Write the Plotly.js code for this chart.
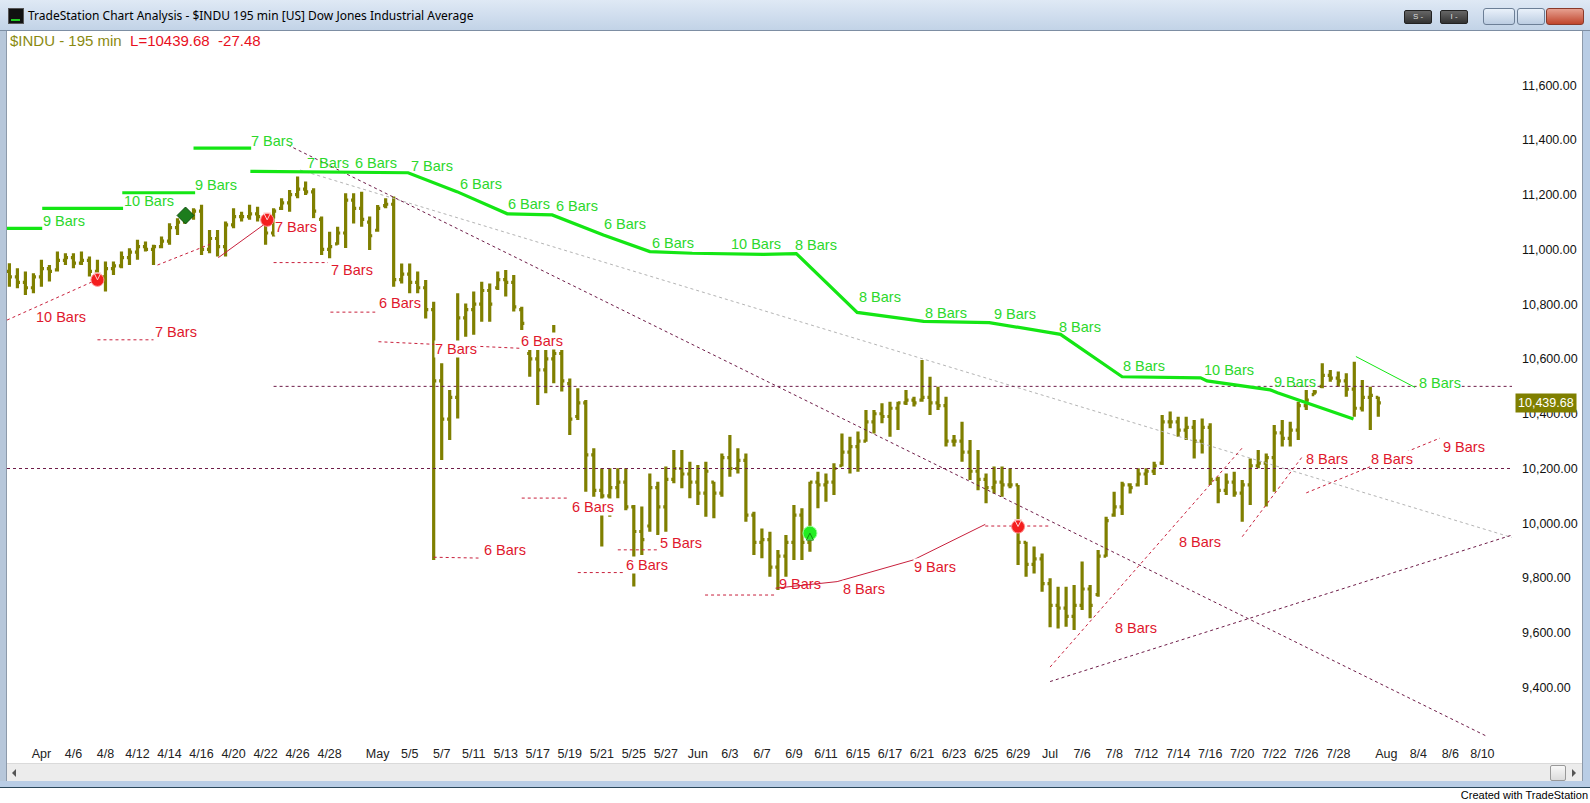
<!DOCTYPE html>
<html>
<head>
<meta charset="utf-8">
<script src="https://cdn.plot.ly/plotly-3.0.1.min.js"></script>
<style>
  body { margin:0; width:1590px; height:803px; overflow:hidden; background:#fff; font-family: Arial, "Liberation Sans", sans-serif; position:relative; }
  .abs { position:absolute; }
  #titlebar { left:0; top:0; width:1590px; height:30px; background:linear-gradient(#dfe9f5,#c2d3e7); border-bottom:1px solid #7d8ea3; }
  #title { left:28px; top:7px; font: 12px "Noto Sans", "DejaVu Sans", sans-serif; color:#000; white-space:nowrap; }
  #icon { left:8px; top:8px; width:14px; height:14px; background:#111; border:1px solid #555; }
  #icon div { position:absolute; left:2px; bottom:2px; width:9px; height:2px; background:#2c2; }
  .tbtn { top:10px; height:12px; background:linear-gradient(#666,#333); border:1px solid #222; border-radius:2px; color:#ddd; font:8px Arial; text-align:center; line-height:12px; }
  .wbtn { top:8px; height:15px; border:1px solid #6c7f96; border-radius:3px; background:linear-gradient(#e9f1fa,#bccde2); }
  #closeb { background:linear-gradient(#e6a090,#c0452c); border-color:#8a3a2a; }
  #hdr { left:10px; top:31px; font:15px Arial, "Liberation Sans", sans-serif; white-space:pre; line-height:19px; z-index:5; }
  #leftb { left:0; top:31px; width:6px; height:750px; background:#b7c7da; border-right:1px solid #8d9aaa; }
  #rightb { left:1582px; top:31px; width:8px; height:750px; background:#b9cde5; border-left:1px solid #8d9aaa; }
  #scroll { left:7px; top:763px; width:1575px; height:17px; background:#ececec; border-top:1px solid #dadada; }
  #bottomb { left:0; top:781px; width:1590px; height:6px; background:#b9cde5; border-bottom:1px solid #2a4658; }
  #credit { right:2px; top:789px; font:11px Arial, "Liberation Sans", sans-serif; color:#000; }
</style>
</head>
<body>
<div id="titlebar" class="abs"></div>
<div id="icon" class="abs"><div></div></div>
<div id="title" class="abs">TradeStation Chart Analysis - $INDU 195 min [US] Dow Jones Industrial Average</div>
<div class="abs tbtn" style="left:1404px;width:26px;">S -</div>
<div class="abs tbtn" style="left:1440px;width:26px;">I -</div>
<div class="abs wbtn" style="left:1483px;width:30px;"></div>
<div class="abs wbtn" style="left:1517px;width:26px;"></div>
<div class="abs wbtn" id="closeb" style="left:1546px;width:36px;"></div>
<div id="chart" class="abs" style="left:7px;top:31px;width:1575px;height:732px;"></div>
<div id="hdr" class="abs"><span style="color:#8a8a10">$INDU - 195 min</span>  <span style="color:#e8101e">L=10439.68  -27.48</span></div>
<div id="leftb" class="abs"></div>
<div id="rightb" class="abs"></div>
<div id="scroll" class="abs">
  <div class="abs" style="left:5px;top:5px;width:0;height:0;border-top:4px solid transparent;border-bottom:4px solid transparent;border-right:4px solid #555;"></div>
  <div class="abs" style="left:1543px;top:1px;width:14px;height:14px;background:linear-gradient(#f8f8f8,#dcdcdc);border:1px solid #999;border-radius:2px;"></div>
  <div class="abs" style="left:1565px;top:5px;width:0;height:0;border-top:4px solid transparent;border-bottom:4px solid transparent;border-left:4px solid #555;"></div>
</div>
<div id="bottomb" class="abs"></div>
<div id="credit" class="abs">Created with TradeStation</div>

<script>
// ---------- time axis ----------
const tradingDays = ['3/30','3/31','4/1','4/5','4/6','4/7','4/8','4/9','4/12','4/13','4/14','4/15','4/16','4/19','4/20','4/21','4/22','4/23','4/26','4/27','4/28','4/29','4/30','5/3','5/4','5/5','5/6','5/7','5/10','5/11','5/12','5/13','5/14','5/17','5/18','5/19','5/20','5/21','5/24','5/25','5/26','5/27','5/28','6/1','6/2','6/3','6/4','6/7','6/8','6/9','6/10','6/11','6/14','6/15','6/16','6/17','6/18','6/21','6/22','6/23','6/24','6/25','6/28','6/29','6/30','7/1','7/2','7/6','7/7','7/8','7/9','7/12','7/13','7/14','7/15','7/16','7/19','7/20','7/21','7/22','7/23','7/26','7/27','7/28','7/29','7/30','8/2','8/3','8/4','8/5','8/6','8/9','8/10','8/11','8/12'];
const sessions = ['09:30','12:45'];
const tickDays   = ['4/1','4/6','4/8','4/12','4/14','4/16','4/20','4/22','4/26','4/28','5/3','5/5','5/7','5/11','5/13','5/17','5/19','5/21','5/25','5/27','6/1','6/3','6/7','6/9','6/11','6/15','6/17','6/21','6/23','6/25','6/29','7/1','7/6','7/8','7/12','7/14','7/16','7/20','7/22','7/26','7/28','8/2','8/4','8/6','8/10'];
const tickLabels = ['Apr','4/6','4/8','4/12','4/14','4/16','4/20','4/22','4/26','4/28','May','5/5','5/7','5/11','5/13','5/17','5/19','5/21','5/25','5/27','Jun','6/3','6/7','6/9','6/11','6/15','6/17','6/21','6/23','6/25','6/29','Jul','7/6','7/8','7/12','7/14','7/16','7/20','7/22','7/26','7/28','Aug','8/4','8/6','8/10'];
const priceTicks = [9400,9600,9800,10000,10200,10400,10600,10800,11000,11200,11400,11600];

// ---------- 195-min OHLC bars ($INDU) ----------
const barOpen = [10920,10900,10880,10860,10900,10930,10925,10960,10970,10950,10960,10920,10900,10930,10940,10970,10990,11010,11000,11010,
11030,11080,11100,11125,11140,11000,11040,11010,11090,11120,11120,11130,11120,11060,11150,11170,11200,11220,11210,11110,
11000,11020,11060,11180,11150,11100,11070,11160,11165,10890,10910,10880,10860,10780,10520,10380,10460,10750,10780,10800,
10850,10860,10890,10880,10780,10620,10600,10560,10600,10620,10510,10390,10440,10250,10120,10100,10130,10150,10060,9970,
9990,10130,10060,10160,10200,10180,10150,10110,10150,10110,10240,10200,10230,10030,9930,9940,9840,9880,9930,10030,
9930,10150,10140,10150,10210,10260,10280,10300,10370,10400,10390,10420,10440,10450,10450,10460,10440,10430,10300,10300,
10260,10190,10160,10130,10150,10140,10140,9930,9850,9870,9780,9700,9690,9660,9700,9760,9740,9880,10030,10060,
10140,10140,10180,10190,10220,10370,10370,10340,10350,10300,10350,10160,10120,10150,10110,10140,10210,10220,10240,10330,
10310,10340,10430,10470,10500,10540,10530,10520,10490,10420,10460,10460];
const barHigh = [10950,10931,10919,10913,10962,10943,10992,10986,10986,10992,10974,10962,10956,10956,10992,11004,11035,11029,11017,11047,
11096,11114,11138,11150,11163,11071,11071,11102,11150,11138,11163,11156,11126,11150,11187,11217,11266,11248,11223,11120,
11065,11083,11205,11205,11211,11120,11162,11187,11193,10949,10949,10919,10888,10809,10584,10487,10840,10803,10846,10882,
10876,10919,10925,10907,10791,10633,10633,10633,10724,10633,10529,10493,10450,10274,10201,10201,10201,10201,10067,10061,
10182,10152,10207,10268,10268,10225,10213,10225,10152,10255,10322,10274,10255,10042,9981,9969,9902,9957,10067,10055,
10152,10188,10182,10219,10328,10316,10335,10414,10414,10438,10444,10444,10487,10462,10596,10535,10499,10462,10322,10371,
10304,10268,10182,10207,10207,10201,10140,9933,9915,9890,9799,9768,9768,9775,9860,9775,9902,10024,10115,10152,
10146,10201,10201,10225,10395,10408,10389,10389,10377,10383,10365,10170,10182,10188,10158,10237,10268,10255,10359,10377,
10371,10444,10487,10487,10584,10560,10554,10548,10590,10523,10499,10462];
const barLow = [10864,10858,10834,10840,10864,10883,10919,10943,10931,10943,10901,10876,10846,10907,10931,10943,10962,10992,10943,11004,
11017,11053,11096,11108,10980,10986,10974,10974,11077,11102,11108,11102,11017,11047,11144,11138,11187,11199,11114,10980,
10968,11017,11005,11095,11083,10998,11065,11150,10864,10876,10840,10840,10748,9866,10231,10304,10383,10681,10688,10736,
10736,10852,10828,10773,10706,10535,10432,10475,10511,10481,10322,10377,10115,10097,9915,10024,10091,10048,9769,9884,
9969,9957,9969,10146,10128,10091,10067,10024,10018,10097,10170,10182,10006,9884,9872,9805,9756,9805,9866,9866,
9896,10055,10079,10103,10207,10182,10188,10298,10328,10365,10316,10341,10432,10426,10444,10395,10414,10280,10280,10225,
10158,10121,10073,10109,10097,10128,9848,9805,9817,9750,9620,9616,9622,9610,9683,9653,9732,9878,10024,10030,
10109,10134,10140,10176,10213,10347,10316,10304,10237,10255,10140,10073,10103,10097,10006,10067,10201,10061,10115,10280,
10280,10304,10414,10469,10493,10517,10499,10462,10389,10408,10341,10389];
const barClose = [10900,10880,10860,10900,10930,10920,10960,10970,10950,10960,10920,10900,10930,10940,10970,10990,11010,11000,11010,11030,
11080,11100,11125,11140,11000,11040,11010,11090,11120,11120,11130,11120,11060,11140,11170,11200,11220,11210,11140,11000,
11010,11060,11180,11150,11110,11050,11150,11165,10890,10910,10880,10860,10780,10520,10380,10460,10750,10780,10800,10850,
10800,10890,10880,10790,10730,10600,10560,10600,10620,10520,10380,10440,10250,10120,10100,10130,10150,10060,9970,9940,
10130,10060,10160,10200,10180,10150,10110,10190,10110,10240,10200,10230,10030,9930,9940,9840,9880,9930,10030,9930,
10150,10140,10150,10200,10260,10280,10300,10370,10400,10390,10420,10440,10450,10440,10460,10440,10430,10300,10300,10260,
10190,10160,10130,10150,10140,10140,9930,9850,9870,9780,9700,9690,9660,9700,9760,9700,9880,10010,10060,10140,
10130,10180,10190,10210,10370,10370,10340,10350,10300,10350,10160,10120,10150,10110,10140,10210,10220,10240,10330,10310,
10340,10430,10450,10480,10540,10530,10520,10490,10420,10460,10467.16,10439.68];
const lastPrice = 10439.68;

// ---------- drawing-tool lines (x = bar position, y = price) ----------
const greenStepX = [-0.3,4.1,null, 4.1,14.2,null, 14.1,23.2,null, 23.0,30.2,null,
  30.1,49.8,55.9,62.2,67.8,74.2,80.0,85.3,94.2,98.3,105.9,114.2,122.4,131.3,139,144,148.8,149.6,157.5,158.4,167.9];
const greenStepY = [11077,11077,null, 11150,11150,null, 11207,11207,null, 11370,11370,null,
  11285,11280,11211,11130,11126,11053,10992,10986,10982,10985,10770,10737,10733,10690,10535,10533,10531,10520,10487,10477,10381];
const greenThinX = [168.2,175.6];
const greenThinY = [10609,10496];

const redDotX = [-0.3,10.9,null, 18.5,25.4,null, 11,18,null, 33,39.8,null, 40.1,45.7,null, 46.1,63.8,null, 64,69.7,null,
  53,58.6,null, 76,80.9,null, 71,76.7,null, 86.9,95.7,null, 121.9,130,null, 130,154,null, 154,161.5,null, 162,178.7];
const redDotY = [10742,10889,null, 10943,11023,null, 10670,10670,null, 10952,10952,null, 10771,10771,null, 10663,10639,null, 10092,10092,null,
  9876,9873,null, 9903,9903,null, 9820,9820,null, 9738,9738,null, 9990,9990,null, 9475,10275,null, 9951,10243,null, 10111,10311];
const redSolidX = [26.1,32,null, 95.7,103.4,112.9,121.9];
const redSolidY = [10970,11095,null, 9763,9787,9866,9996];

const purpleDotX = [33,187.7,null, -0.3,187.7,null, 34.8,184.7,null, 130,187.7];
const purpleDotY = [10500,10500,null, 10200,10200,null, 11381,9220,null, 9422,9957];
const grayDotX = [36.3,187.7];
const grayDotY = [11290,9948];

// ---------- signal markers ----------
const sellX = [11,32.2,126];
const sellY = [10889,11108,9988];
const buyX = [100];
const buyY = [9964];
const diamondX = [22];
const diamondY = [11124];

// ---------- "N Bars" labels (left edge x, centre y) ----------
const greenLabels = ['9 Bars','10 Bars','9 Bars','7 Bars','7 Bars','6 Bars','7 Bars','6 Bars','6 Bars','6 Bars','6 Bars','6 Bars','10 Bars','8 Bars','8 Bars','8 Bars','9 Bars','8 Bars','8 Bars','10 Bars','9 Bars','8 Bars'];
const greenLabelX = [4.1,14.2,23.1,30.1,37.1,43.1,50.1,56.1,62.1,68.1,74.2,80.1,90.0,98.0,106.0,114.2,122.9,131,139,149.1,157.9,176];
const greenLabelY = [11105,11176,11237,11397,11315,11315,11305,11239,11166,11159,11093,11024,11020,11015,10826,10768,10766,10715,10574,10560,10517,10511];
const redLabels = ['10 Bars','7 Bars','7 Bars','7 Bars','6 Bars','7 Bars','6 Bars','6 Bars','6 Bars','6 Bars','5 Bars','9 Bars','8 Bars','9 Bars','8 Bars','8 Bars','8 Bars','8 Bars','9 Bars'];
const redLabelX = [3.2,18.0,33.0,40.1,46.0,53.0,63.8,59.1,70.1,76.9,81.1,96.0,104,112.9,138,146,161.9,170,179];
const redLabelY = [10753,10699,11083,10925,10805,10637,10666,9902,10061,9849,9928,9780,9760,9839,9617,9932,10235,10235,10280];

// ---------- build ----------
const barTimes = [];
tradingDays.forEach(d => sessions.forEach(s => barTimes.push(d + ' ' + s)));
const barX = barClose.map((_, i) => barTimes.indexOf(barTimes[i]));
const tickVals = tickDays.map(d => barTimes.indexOf(d + ' ' + sessions[0]));

const olive = '#7f7f00';
const FONT = 'Arial, "Liberation Sans", sans-serif';

function lineTrace(x, y, color, width, dash) {
  return {type:'scatter', mode:'lines', x:x, y:y, connectgaps:false, hoverinfo:'skip',
          line:{color:color, width:width, dash:dash || 'solid'}};
}

const traces = [
  lineTrace(grayDotX, grayDotY, '#b4b4b4', 1, '3px,3px'),
  lineTrace(purpleDotX, purpleDotY, '#6e1c48', 1, '3px,3px'),
  {type:'ohlc', x:barX, open:barOpen, high:barHigh, low:barLow, close:barClose, tickwidth:0.32, hoverinfo:'skip',
   increasing:{line:{color:olive, width:3.2}}, decreasing:{line:{color:olive, width:3.2}}},
  lineTrace(redDotX, redDotY, '#c8203c', 1, '3px,3px'),
  lineTrace(redSolidX, redSolidY, '#c8203c', 1),
  lineTrace(greenStepX, greenStepY, '#14e614', 3.2),
  lineTrace(greenThinX, greenThinY, '#14e614', 1),
  {type:'scatter', mode:'markers', x:sellX, y:sellY, hoverinfo:'skip',
   marker:{symbol:'circle', size:13, color:'#f41e1e', line:{color:'#ff9090', width:1}}},
  {type:'scatter', mode:'markers', x:sellX, y:sellY, hoverinfo:'skip',
   marker:{symbol:'arrow-down', size:7, color:'rgba(255,255,255,0)', line:{color:'#ffd0d0', width:1}}},
  {type:'scatter', mode:'markers', x:buyX, y:buyY, hoverinfo:'skip',
   marker:{symbol:'circle', size:14, color:'#22ee22', line:{color:'#9cff9c', width:1}}},
  {type:'scatter', mode:'markers', x:buyX, y:buyY, hoverinfo:'skip',
   marker:{symbol:'arrow-up', size:7, color:'rgba(0,0,0,0)', line:{color:'#118811', width:1}}},
  {type:'scatter', mode:'markers', x:diamondX, y:diamondY, hoverinfo:'skip',
   marker:{symbol:'diamond', size:13, color:'#1d7d1d', line:{color:'#0d4d0d', width:1}}}
];

const annotations = [];
greenLabels.forEach((t, i) => annotations.push({x:greenLabelX[i], y:greenLabelY[i], text:t, showarrow:false,
  xanchor:'left', yanchor:'middle', bgcolor: (i === greenLabels.length - 1) ? '#ffffff' : 'rgba(255,255,255,0)', borderpad:0,
  font:{family:FONT, size:14.5, color:'#2cd82c'}}));
redLabels.forEach((t, i) => annotations.push({x:redLabelX[i], y:redLabelY[i], text:t, showarrow:false,
  xanchor:'left', yanchor:'middle', bgcolor: (i === 11) ? 'rgba(0,0,0,0)' : '#ffffff', borderpad:0,
  font:{family:FONT, size:14.5, color:'#e0182d'}}));
annotations.push({xref:'paper', x:1, xshift:3, y:lastPrice, yref:'y', text:'10,439.68', showarrow:false,
  xanchor:'left', yanchor:'middle', bgcolor:olive, borderpad:2, font:{family:FONT, size:12.5, color:'#ffffff'}});

const layout = {
  width:1575, height:732,
  margin:{l:0, r:70, t:1, b:19},
  paper_bgcolor:'#ffffff', plot_bgcolor:'#ffffff',
  showlegend:false,
  font:{family:FONT, color:'#111'},
  xaxis:{type:'linear', range:[-0.3,187.7], tickmode:'array', tickvals:tickVals, ticktext:tickLabels,
         showgrid:false, zeroline:false, showline:false, ticks:'', tickfont:{size:12.5, color:'#222'},
         rangeslider:{visible:false}, fixedrange:true},
  yaxis:{side:'right', range:[9194,11794], tickmode:'array', tickvals:priceTicks, tickformat:',.2f',
         showgrid:false, zeroline:false, showline:false, ticks:'', ticklabelstandoff:9,
         tickfont:{size:12.5, color:'#111'}, fixedrange:true},
  annotations:annotations
};

Plotly.newPlot('chart', traces, layout, {displayModeBar:false, staticPlot:true});
</script>
</body>
</html>
